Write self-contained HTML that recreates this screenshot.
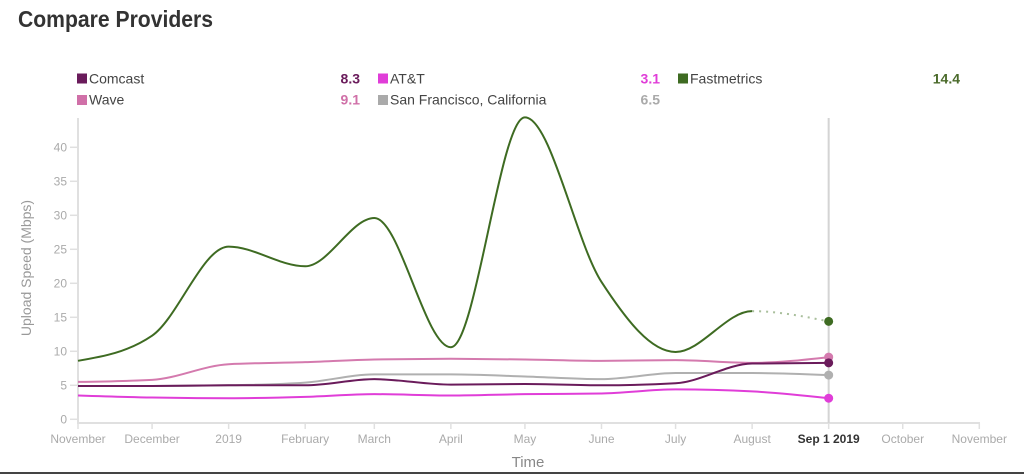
<!DOCTYPE html>
<html><head><meta charset="utf-8"><style>
html,body{margin:0;padding:0;background:#fff;}
svg{display:block;font-family:"Liberation Sans",sans-serif;}
</style></head><body>
<svg id="c" width="1024" height="474" viewBox="0 0 1024 474" xmlns="http://www.w3.org/2000/svg">
<rect x="0" y="0" width="1024" height="474" fill="#fff"/>
<text x="18" y="27" font-size="23" font-weight="bold" fill="#333" textLength="195" lengthAdjust="spacingAndGlyphs">Compare Providers</text>
<!-- legend -->
<g font-size="14">
<rect x="77" y="73.5" width="10" height="10" fill="#6a1b5b"/><text x="89" y="83.3" fill="#444">Comcast</text><text x="360" y="83.3" text-anchor="end" font-weight="bold" fill="#6a1b5b">8.3</text>
<rect x="378" y="73.5" width="10" height="10" fill="#e03dd8"/><text x="390" y="83.3" fill="#444">AT&amp;T</text><text x="660" y="83.3" text-anchor="end" font-weight="bold" fill="#e03dd8">3.1</text>
<rect x="678" y="73.5" width="10" height="10" fill="#3e6b22"/><text x="690" y="83.3" fill="#444">Fastmetrics</text><text x="960" y="83.3" text-anchor="end" font-weight="bold" fill="#4a6a2a">14.4</text>
<rect x="77" y="95" width="10" height="10" fill="#d070a8"/><text x="89" y="104.5" fill="#444">Wave</text><text x="360" y="104.5" text-anchor="end" font-weight="bold" fill="#d070a8">9.1</text>
<rect x="378" y="95" width="10" height="10" fill="#aaaaaa"/><text x="390" y="104.5" fill="#444">San Francisco, California</text><text x="660" y="104.5" text-anchor="end" font-weight="bold" fill="#aaaaaa">6.5</text>
</g>
<g id="axes"></g>
<g id="series"></g>
<text transform="translate(31,268) rotate(-90)" text-anchor="middle" font-size="14" fill="#999">Upload Speed (Mbps)</text>
<text x="528" y="467" text-anchor="middle" font-size="15" fill="#888">Time</text>
<rect x="0" y="472" width="1024" height="2" fill="#444"/>
</svg>
<script>
(function(){
var NS="http://www.w3.org/2000/svg";
function el(tag,attrs,parent,txt){var e=document.createElementNS(NS,tag);for(var k in attrs)e.setAttribute(k,attrs[k]);if(txt!==undefined)e.textContent=txt;parent.appendChild(e);return e;}
var axes=document.getElementById('axes'),ser=document.getElementById('series');
var X0=78,PX=901.3/365;
function xd(d){return X0+d*PX;}
var Y0=419.3,PY=6.8;
function yv(v){return Y0-v*PY;}
// y axis
el('line',{x1:78,y1:118,x2:78,y2:423.5,stroke:'#e0e0e0','stroke-width':2},axes);
for(var v=0;v<=40;v+=5){var y=yv(v);el('line',{x1:70,y1:y,x2:78,y2:y,stroke:'#e0e0e0','stroke-width':1.5},axes);
el('text',{x:67,y:y+4.3,'text-anchor':'end','font-size':12,fill:'#aaa'},axes,String(v));}
// x axis
el('line',{x1:77,y1:423,x2:980,y2:423,stroke:'#e0e0e0','stroke-width':2},axes);
var months=[[0,'November'],[30,'December'],[61,'2019'],[92,'February'],[120,'March'],[151,'April'],[181,'May'],[212,'June'],[242,'July'],[273,'August'],[304,'Sep 1 2019'],[334,'October'],[365,'November']];
months.forEach(function(m){var x=xd(m[0]);el('line',{x1:x,y1:423,x2:x,y2:429,stroke:'#e0e0e0','stroke-width':1.5},axes);
var a={x:x,y:443,'text-anchor':'middle','font-size':12,fill:'#aaa'};if(m[1]==='Sep 1 2019'){a.fill='#333';a['font-weight']='bold';}
el('text',a,axes,m[1]);});
// vertical marker
el('line',{x1:xd(304),y1:118,x2:xd(304),y2:423,stroke:'#d4d4d4','stroke-width':2},axes);
var days=[0,30,61,92,120,151,181,212,242,273,304];
function sign(v){return v<0?-1:1;}
function segs(vals){
 var p=days.map(function(d,i){return [xd(d),yv(vals[i])];});
 var n=p.length,t=new Array(n);
 for(var i=1;i<n-1;i++){var h0=p[i][0]-p[i-1][0],h1=p[i+1][0]-p[i][0];var s0=(p[i][1]-p[i-1][1])/h0,s1=(p[i+1][1]-p[i][1])/h1;var pp=(s0*h1+s1*h0)/(h0+h1);
  t[i]=(sign(s0)+sign(s1))*Math.min(Math.abs(s0),Math.abs(s1),0.5*Math.abs(pp))||0;}
 var h=p[1][0]-p[0][0];t[0]=(3*(p[1][1]-p[0][1])/h-t[1])/2;
 h=p[n-1][0]-p[n-2][0];t[n-1]=(3*(p[n-1][1]-p[n-2][1])/h-t[n-2])/2;
 var s=[];for(var i=0;i<n-1;i++){var dx=(p[i+1][0]-p[i][0])/3;
  s.push('C'+(p[i][0]+dx).toFixed(2)+','+(p[i][1]+dx*t[i]).toFixed(2)+' '+(p[i+1][0]-dx).toFixed(2)+','+(p[i+1][1]-dx*t[i+1]).toFixed(2)+' '+p[i+1][0].toFixed(2)+','+p[i+1][1].toFixed(2));}
 return {p:p,s:s};
}
var data=[
 {c:'#b0b0b0',v:[4.9,4.9,5.0,5.4,6.6,6.6,6.3,5.9,6.8,6.8,6.5]},
 {c:'#e03dd8',v:[3.5,3.2,3.1,3.3,3.7,3.5,3.7,3.8,4.4,4.1,3.1]},
 {c:'#d47aae',v:[5.5,5.8,8.1,8.4,8.8,8.9,8.8,8.6,8.7,8.3,9.15]},
 {c:'#6a1b5b',v:[4.9,4.9,5.0,5.0,5.9,5.1,5.2,5.0,5.3,8.2,8.3]},
 {c:'#3e6b22',v:[8.6,12.3,25.4,22.5,29.6,10.6,44.4,20.2,9.9,15.9,14.4],dot:true}
];
data.forEach(function(d){
 var r=segs(d.v),p=r.p,s=r.s,n=p.length;
 if(d.dot){
  el('path',{d:'M'+p[0][0]+','+p[0][1]+s.slice(0,n-2).join(''),fill:'none',stroke:d.c,'stroke-width':2},ser);
  el('path',{d:'M'+p[n-2][0]+','+p[n-2][1]+s[n-2],fill:'none',stroke:'#a9bf9c','stroke-width':2,'stroke-dasharray':'2,5'},ser);
 } else {
  el('path',{d:'M'+p[0][0]+','+p[0][1]+s.join(''),fill:'none',stroke:d.c,'stroke-width':2},ser);
 }
 el('circle',{cx:p[n-1][0],cy:p[n-1][1],r:4.5,fill:d.c},ser);
});
})();
</script>
</body></html>
